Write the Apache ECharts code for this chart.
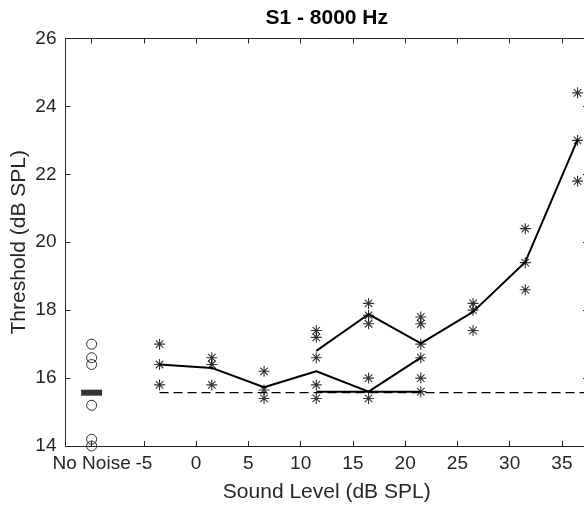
<!DOCTYPE html>
<html>
<head>
<meta charset="utf-8">
<script src="https://cdn.jsdelivr.net/npm/echarts@6/dist/echarts.min.js"></script>
<style>html,body{margin:0;padding:0;background:#fff}#c{width:584px;height:506px}</style>
</head>
<body>
<div id="c"></div>
<script>
// ---- data ----
const titleText = 'S1 - 8000 Hz';
const xName = 'Sound Level (dB SPL)';
const yName = 'Threshold (dB SPL)';
const xTicks = [-10, -5, 0, 5, 10, 15, 20, 25, 30, 35];
const noNoiseX = -10;
const noNoiseLabel = 'No Noise';
const noNoiseVals = [17.0, 16.6, 16.4, 15.2, 14.2, 14.0];
const noNoiseMean = 15.57;
const levels = [-3.5, 1.5, 6.5, 11.5, 16.5, 21.5, 26.5, 31.5, 36.5];
const starVals = [
  [17.0, 16.4, 15.8],
  [16.6, 16.4, 15.8],
  [16.2, 15.65, 15.4],
  [17.4, 17.2, 16.6, 15.8, 15.4],
  [18.2, 17.85, 17.6, 16.0, 15.4],
  [17.8, 17.6, 17.0, 16.6, 16.0, 15.6],
  [18.2, 18.0, 17.4],
  [20.4, 19.4, 18.6],
  [24.4, 23.0, 21.8]
];
const lowerX = [-3.5, 1.5, 6.5, 11.5, 16.5, 21.5];
const lowerY = [16.4, 16.3, 15.73, 16.2, 15.6, 16.6];
const flatX = [11.5, 16.5, 21.5];
const flatY = [15.6, 15.6, 15.6];
const upperX = [11.5, 16.5, 21.5, 26.5, 31.5, 36.5];
const upperY = [16.8, 17.88, 17.02, 17.95, 19.42, 23.02];
const dashX = [-3.5, 37.5];
const xMin = -12.5, xMax = 37.5;
const yMin = 14, yMax = 26, yStep = 2;

// ---- chart ----
const txt = '#262626';
const font = 'Liberation Sans, Arial, Helvetica, sans-serif';
const starPath = 'path://M5,0L5,10M0,5L10,5M1.6,1.6L8.4,8.4M1.6,8.4L8.4,1.6';
const chart = echarts.init(document.getElementById('c'), null, {renderer: 'canvas'});

const starData = [];
levels.forEach((x, i) => starVals[i].forEach(v => starData.push([x, v])));
const zip = (xs, ys) => xs.map((x, i) => [x, ys[i]]);

const grid = {left: 65.5, top: 38.5, width: 522.5, height: 407.5, outerBoundsMode: 'none', containLabel: false};

chart.setOption({
  animation: false,
  backgroundColor: '#fff',
  title: {
    text: titleText, left: grid.left + grid.width / 2, top: 8, textAlign: 'center', padding: 0,
    textStyle: {fontFamily: font, fontSize: 21, fontWeight: 'bold', color: '#000'}
  },
  grid: grid,
  xAxis: [{
    type: 'value', min: xMin, max: xMax,
    name: xName, nameLocation: 'middle', nameGap: 36, nameMoveOverlap: false,
    nameTextStyle: {fontFamily: font, fontSize: 21, color: txt},
    axisLine: {show: true, onZero: false, lineStyle: {color: txt, width: 1}},
    axisTick: {show: true, inside: true, length: 5, customValues: xTicks, lineStyle: {color: txt}},
    axisLabel: {
      customValues: xTicks, margin: 8, fontFamily: font, fontSize: 19, color: txt,
      formatter: v => (v === noNoiseX ? noNoiseLabel : String(v))
    },
    splitLine: {show: false}
  }, {
    type: 'value', min: xMin, max: xMax, position: 'top',
    axisLine: {show: true, onZero: false, lineStyle: {color: txt, width: 1}},
    axisTick: {show: true, inside: true, length: 5, customValues: xTicks, lineStyle: {color: txt}},
    axisLabel: {show: false}, splitLine: {show: false}
  }],
  yAxis: [{
    type: 'value', min: yMin, max: yMax, interval: yStep,
    name: yName, nameLocation: 'middle', nameGap: 36, nameRotate: 90, nameMoveOverlap: false,
    nameTextStyle: {fontFamily: font, fontSize: 21, color: txt},
    axisLine: {show: true, onZero: false, lineStyle: {color: txt, width: 1}},
    axisTick: {show: true, inside: true, length: 5, lineStyle: {color: txt}},
    axisLabel: {margin: 9, fontFamily: font, fontSize: 19, color: txt},
    splitLine: {show: false}
  }, {
    type: 'value', min: yMin, max: yMax, interval: yStep, position: 'right',
    axisLine: {show: true, onZero: false, lineStyle: {color: txt, width: 1}},
    axisTick: {show: true, inside: true, length: 5, lineStyle: {color: txt}},
    axisLabel: {show: false}, splitLine: {show: false}
  }],
  series: [
    {
      type: 'line', data: zip(dashX, dashX.map(() => noNoiseMean)), symbol: 'none',
      lineStyle: {color: '#000', width: 1.3, type: [9, 5]}, z: 2
    },
    {type: 'line', data: zip(lowerX, lowerY), symbol: 'none', lineStyle: {color: '#000', width: 2}, z: 3},
    {type: 'line', data: zip(flatX, flatY), symbol: 'none', lineStyle: {color: '#000', width: 2}, z: 3},
    {type: 'line', data: zip(upperX, upperY), symbol: 'none', lineStyle: {color: '#000', width: 2}, z: 3},
    {
      type: 'scatter', data: starData, symbol: starPath, symbolSize: 11,
      itemStyle: {color: 'transparent', borderColor: '#000', borderWidth: 1.1}, z: 4
    },
    {
      type: 'scatter', data: noNoiseVals.map(v => [noNoiseX, v]), symbol: 'circle', symbolSize: 10,
      itemStyle: {color: 'transparent', borderColor: '#000', borderWidth: 1}, z: 4
    },
    {
      type: 'scatter', data: [[noNoiseX, noNoiseMean]], symbol: 'rect', symbolSize: [21, 6],
      itemStyle: {color: '#000'}, z: 5
    }
  ]
});
</script>
</body>
</html>
